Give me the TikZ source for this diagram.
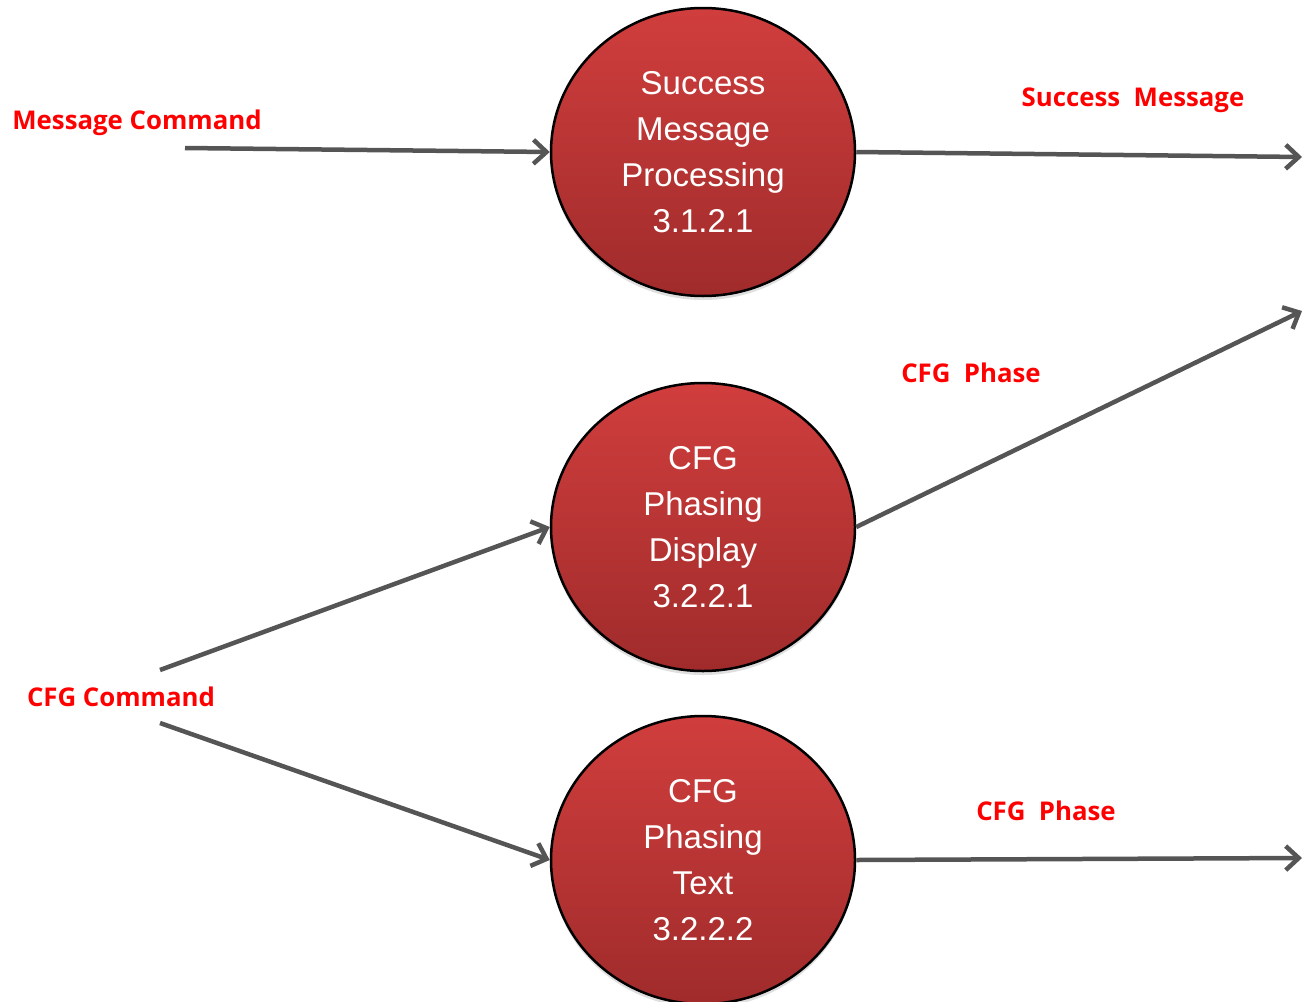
\documentclass[tikz,border=0pt]{standalone}
\usepackage{fontspec}
\setmainfont{Liberation Sans}
\newfontfamily\labelfont{Open Sans}
\usepackage{xcolor}
\usepackage{tikz}
\usetikzlibrary{shapes.geometric,arrows.meta,shadows}
\definecolor{bubbletop}{HTML}{D03E3D}
\definecolor{bubblebot}{HTML}{A02B2B}
\definecolor{flowgray}{HTML}{555555}
\definecolor{labelred}{HTML}{FF0000}

\begin{document}
\begin{tikzpicture}[x=1pt,y=-1pt,
  process/.style={ellipse,draw=black,line width=2.5pt,minimum width=304pt,minimum height=288pt,inner sep=0pt,
    top color=bubbletop,bottom color=bubblebot,text=white,align=center,
    font=\fontsize{33}{46}\selectfont,
    drop shadow={opacity=0.25,shadow xshift=0pt,shadow yshift=-4pt}},
  flowlabel/.style={text=labelred,font=\labelfont\bfseries\fontsize{25.8}{30}\selectfont},
  flow/.style={draw=flowgray,line width=4.5pt,-{Straight Barb[length=13pt,width=24pt]}}]
  \useasboundingbox (0,0) rectangle (1305,1001);
  % Process bubbles
  \node[process] (succ) at (703,152) {Success\\Message\\Processing\\3.1.2.1};
  \node[process] (disp) at (703,527) {CFG\\Phasing\\Display\\3.2.2.1};
  \node[process] (text) at (703,860) {CFG\\Phasing\\Text\\3.2.2.2};
  % Flow labels
  \node[flowlabel] (msgcmd) at (137,123) {Message Command};
  \node[flowlabel] (succmsg) at (1133,100) {Success\ \ Message};
  \node[flowlabel] (phaseup) at (971,373) {CFG\ \ Phase};
  \node[flowlabel] (cfgcmd) at (121,697) {CFG Command};
  \node[flowlabel] (phaselow) at (1046,811) {CFG\ \ Phase};
  % Free ends of the flows
  \coordinate (msgin) at (185,148);
  \coordinate (succout) at (1302,157);
  \coordinate (dispout) at (1302,311);
  \coordinate (cmdup) at (160,670);
  \coordinate (cmddown) at (160,723);
  \coordinate (textout) at (1302,858);
  % Flows
  \draw[flow] (msgin) -- (succ.west);
  \draw[flow] (succ.east) -- (succout);
  \draw[flow] (cmdup) -- (disp.west);
  \draw[flow] (disp.east) -- (dispout);
  \draw[flow] (cmddown) -- (text.west);
  \draw[flow] (text.east) -- (textout);
\end{tikzpicture}
\end{document}
